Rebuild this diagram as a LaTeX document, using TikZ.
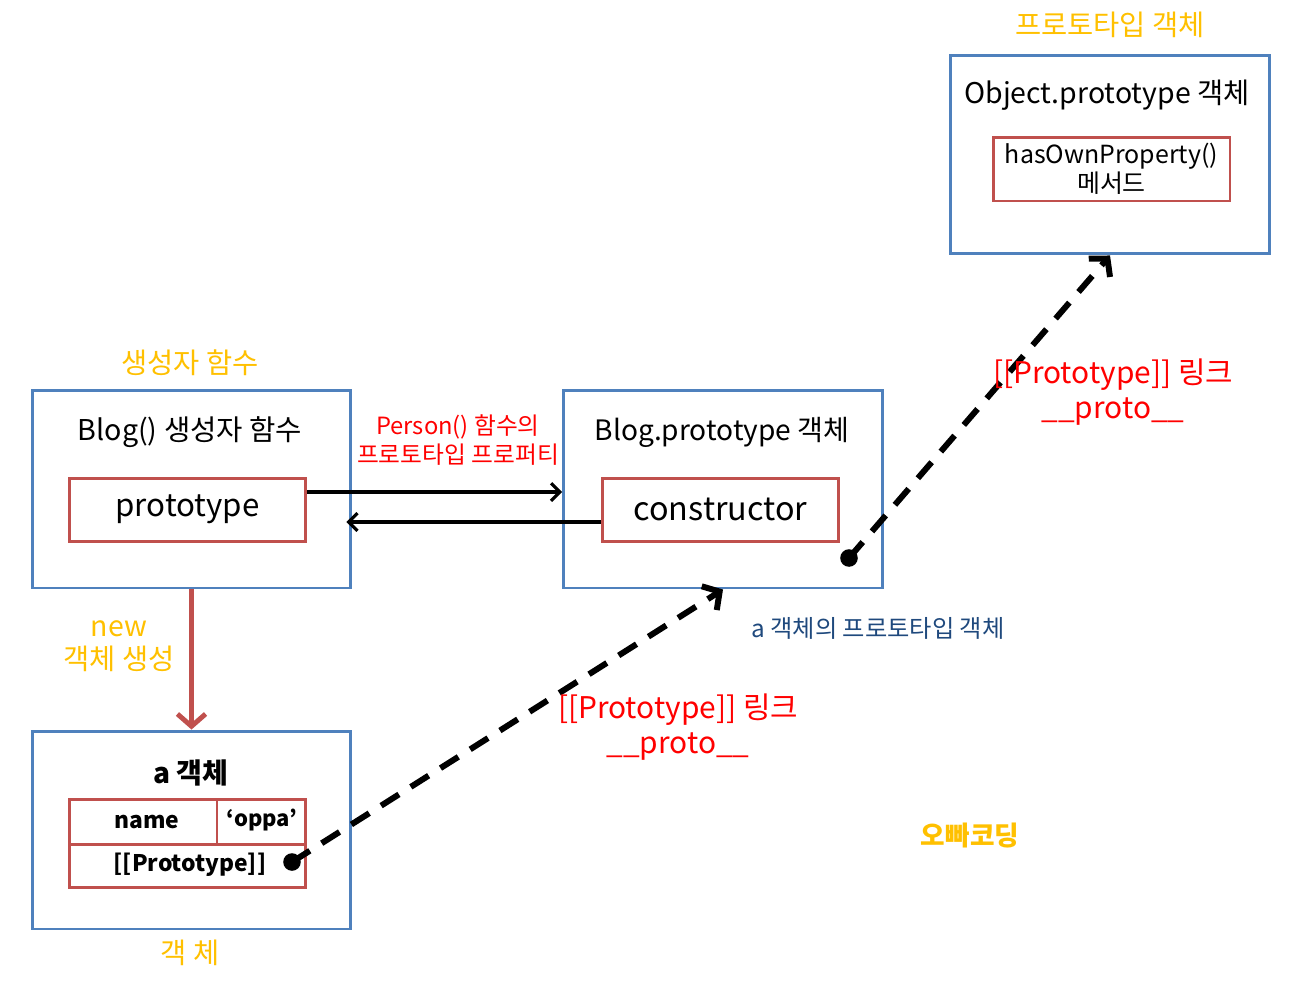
\documentclass[tikz,border=0pt]{standalone}
\usepackage{fontspec}
\setmainfont{Noto Sans CJK KR}
\usepackage{tikz}
\usetikzlibrary{arrows.meta,positioning}

\definecolor{boxblue}{HTML}{4F81BD}
\definecolor{boxred}{HTML}{C0504D}
\definecolor{noteorange}{HTML}{FFC000}
\definecolor{notered}{HTML}{FF0000}
\definecolor{notenavy}{HTML}{1F497D}

\tikzset{
  outerbox/.style={draw=boxblue, line width=1.7pt, minimum width=6.38cm, minimum height=3.96cm},
  innerbox/.style={draw=boxred, line width=1.7pt, minimum width=4.74cm, minimum height=1.26cm},
  orangenote/.style={text=noteorange, font=\fontsize{16.2}{20}\selectfont},
  rednote/.style={text=notered, align=center, font=\fontsize{17}{20.4}\selectfont},
  linkdot/.style={circle, fill=black, inner sep=0pt, minimum size=10pt},
  reflink/.style={line width=1.8pt, -{Straight Barb[length=5pt,width=10pt]}},
  protolink/.style={line width=3.4pt, dash pattern=on 12pt off 8pt, -{Straight Barb[length=7pt,width=16pt]}}
}

\begin{document}
\begin{tikzpicture}[x=0.02cm, y=-0.02cm]
	\useasboundingbox (0,0) rectangle (1300,981);
	% Object.prototype box
	\node[orangenote] (toplabel) at (1110,25) {프로토타입 객체};
	\node[outerbox, minimum width=6.4cm, minimum height=3.98cm] (objproto) at (1110,154.5) {};
	\node[font=\fontsize{16.2}{18}\selectfont] (objtitle) at (1107,95) {Object.prototype 객체};
	\node[innerbox, minimum height=1.28cm, align=center, font=\fontsize{14.2}{16.5}\selectfont] (hasown) at (1111.5,169) {hasOwnProperty()\\메서드};
	% Blog() box
	\node[orangenote] (fnlabel) at (190,363) {생성자 함수};
	\node[outerbox] (blogfn) at (191.5,489) {};
	\node[font=\fontsize{16.3}{18}\selectfont] (fntitle) at (190,432) {Blog() 생성자 함수};
	\node[innerbox, font=\fontsize{17.8}{20}\selectfont] (proto) at (187.5,509.5) {prototype};
	% Blog.prototype box
	\node[outerbox] (blogproto) at (723,489) {};
	\node[font=\fontsize{16}{18}\selectfont] (prototitle) at (722,432) {Blog.prototype 객체};
	\node[innerbox, font=\fontsize{18.4}{20}\selectfont] (ctor) at (720.5,509.5) {constructor};
	\node[text=notered, align=center, font=\fontsize{13.5}{16.4}\selectfont] (personnote) at (458,440) {Person() 함수의\\프로토타입 프로퍼티};
	% a object box
	\node[outerbox] (aobj) at (191.5,830) {};
	\node[font=\bfseries\fontsize{16}{17}\selectfont] (atitle) at (191,773) {a 객체};
	\node[innerbox, minimum height=1.76cm] (tbl) at (187.5,843) {};
	\draw[draw=boxred, line width=1.7pt] (69,844) -- (306,844);
	\draw[draw=boxred, line width=1.7pt] (217,799) -- (217,844);
	\node[font=\bfseries\fontsize{13}{16}\selectfont] (namecell) at (147,822) {name};
	\node[font=\bfseries\fontsize{12.5}{16}\selectfont] (valcell) at (262,820) {‘oppa’};
	\node[font=\bfseries\fontsize{13}{16}\selectfont] (slotcell) at (190,865) {[[Prototype]]};
	\node[orangenote] (objlabel) at (190,953) {객 체};
	% new arrow
	\node[orangenote, align=center, font=\fontsize{16.2}{18.7}\selectfont] (newnote) at (119,646) {new\\객체 생성};
	\draw[draw=boxred, line width=2.8pt, -{Straight Barb[length=7pt,width=16pt]}] (blogfn.south) -- (aobj.north);
	% Links between prototype and constructor
	\coordinate (backend) at ([xshift=-0.12cm]blogfn.east);
	\draw[reflink] ([yshift=0.35cm]proto.east) -- ([yshift=0.35cm]proto.east -| blogproto.west);
	\draw[reflink] ([yshift=-0.25cm]ctor.west) -- ([yshift=-0.25cm]ctor.west -| backend);
	% [[Prototype]] links
	\node[linkdot] (adot) at (292,862) {};
	\node[linkdot] (pdot) at (849,558) {};
	\draw[protolink] (adot.center) -- (blogproto.south);
	\draw[protolink] (pdot.center) -- (objproto.south);
	\node[rednote] (lowlink) at (678,727) {[[Prototype]] 링크\\\_\_proto\_\_};
	\node[rednote] (highlink) at (1113,392) {[[Prototype]] 링크\\\_\_proto\_\_};
	\node[text=notenavy, font=\fontsize{13.8}{16}\selectfont] (aprotonote) at (878,628) {a 객체의 프로토타입 객체};
	\node[text=noteorange, font=\bfseries\fontsize{15.2}{16}\selectfont] (brand) at (970,836) {오빠코딩};
\end{tikzpicture}
\end{document}
